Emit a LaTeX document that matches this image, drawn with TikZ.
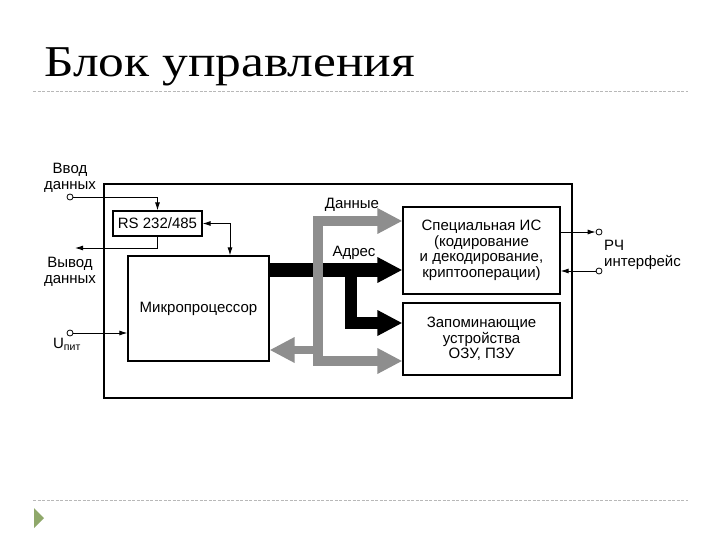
\documentclass[tikz,border=0pt]{standalone}
\usepackage{fontspec}
\setmainfont{Liberation Sans}
\newfontfamily\titlefont[FakeStretch=1.17]{Liberation Serif}
\usetikzlibrary{arrows.meta,positioning,calc}
\definecolor{pline}{HTML}{B8B8B8}
\definecolor{pgreen}{HTML}{8FA86A}
\definecolor{pbus}{HTML}{8E8E8E}
\tikzset{
  % plain boxes of the block diagram
  blk/.style   = {rectangle, draw, line width=1.2pt, align=center, inner sep=0pt,
                  font=\fontsize{15}{15.5}\selectfont},
  lbl/.style   = {align=center, inner sep=0pt, font=\fontsize{15}{15.5}\selectfont},
  pin/.style   = {circle, draw, fill=white, line width=0.8pt, inner sep=0pt, minimum size=6pt},
  sig/.style   = {line width=0.9pt},
  sigarr/.style = {sig, -{Latex[length=8pt,width=5pt]}},
  addr/.style  = {line width=14pt, black, line join=miter},
  data/.style  = {line width=10pt, pbus, line join=miter},
  bigtip/.tip  = {Triangle[width=24pt,length=25pt]},
  rule/.style  = {pline, line width=0.9pt, dash pattern=on 3pt off 1.5pt},
}

\begin{document}
\begin{tikzpicture}[x=1pt,y=-1pt]
\useasboundingbox (0,0) rectangle (720,540);
% title and slide rules
\node[anchor=base west, inner sep=0pt, font=\titlefont\fontsize{44}{44}\selectfont] (title) at (44,77) {Блок управления};
\draw[rule] (33,91) -- (688,91);
\draw[rule] (33,500) -- (688,500);
\fill[pgreen] (34,508) -- (44,518) -- (34,528) -- cycle;
% outer frame
\node[draw, line width=1.6pt, minimum width=468pt, minimum height=214pt, inner sep=0pt] (ctrl) at (338,291) {};
% blocks
\node[blk, minimum width=89pt, minimum height=25pt] (rs) at (157.5,223.5) {RS 232/485};
\node[blk, minimum width=141pt, minimum height=105pt] (mp) at (198.5,308.5) {Микропроцессор};
\node[blk, minimum width=157pt, minimum height=87pt] (ic) at (481.5,250.5)
  {Специальная ИС\\(кодирование\\и декодирование,\\криптооперации)};
\node[blk, minimum width=157pt, minimum height=72pt] (mem) at (481.5,339)
  {Запоминающие\\устройства\\ОЗУ, ПЗУ};
% pins
\node[pin] (vin) at (70,197) {};
\node[pin] (upit) at (70,333) {};
\node[pin] (rf1) at (599,232) {};
\node[pin] (rf2) at (599,271) {};
\coordinate (vout) at (75,248);
% labels
\node[lbl, anchor=south] at (vin.north) [yshift=1pt] {Ввод\\данных};
\node[lbl] at (70,272) {Вывод\\данных};
\node[lbl, anchor=north] at (67,338) {U\textsubscript{пит}};
\node[lbl, anchor=west, align=left] at (604,255) {РЧ\\интерфейс};
\node[lbl] at (352,205) {Данные};
\node[lbl] at (354,253) {Адрес};
% address bus
\coordinate (abr) at (351,270);
\draw[addr, -{bigtip}] (mp.east |- abr) -- (ic.west |- abr);
\draw[addr, line width=12pt, -{bigtip}] (abr) -- (351,323) -- (mem.west |- 0,323);
% data bus
\coordinate (dtop) at (318,221);
\coordinate (dbot) at (318,361);
\draw[data, {bigtip}-{bigtip}] (ic.west |- dtop) -- (dtop) -- (dbot) -- (mem.west |- dbot);
\draw[data, line width=8pt, -{bigtip}] (318,350) -- (mp.east |- 0,350);
% serial and power lines
\draw[sigarr] (vin) -| (rs.north);
\draw[sigarr] (rs.south) |- (vout);
\draw[sig, {Latex[length=8pt,width=5pt]}-{Latex[length=8pt,width=5pt]}] (rs.east) -| ([xshift=31.5pt]mp.north);
\draw[sigarr] (upit) -- (upit -| mp.west);
% RF interface
\draw[sigarr] (ic.east |- rf1) -- (rf1);
\draw[sigarr] (rf2) -- (ic.east |- rf2);
\end{tikzpicture}
\end{document}
